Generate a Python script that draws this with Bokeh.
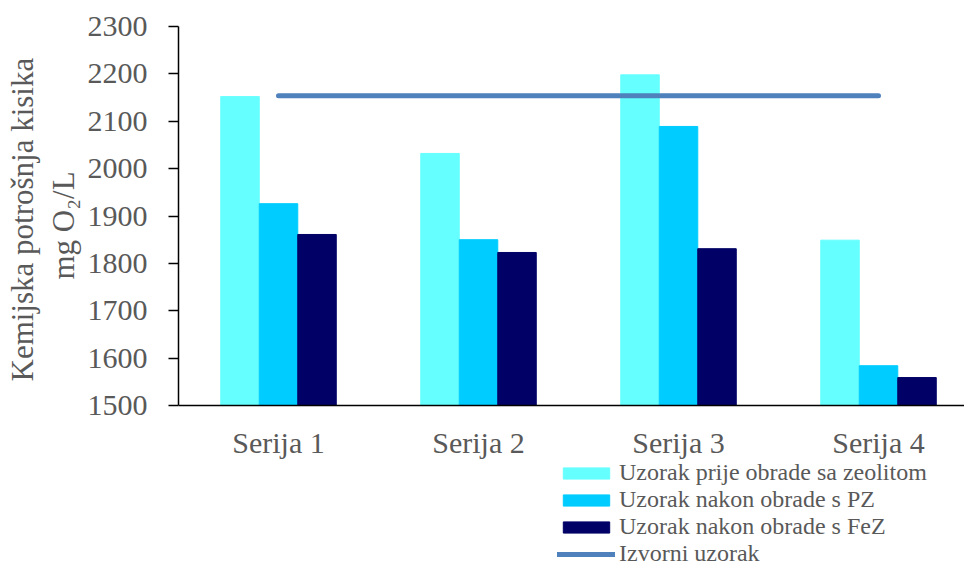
from bokeh.plotting import figure
from bokeh.models import Range1d, FixedTicker, Legend, LegendItem, Span, Title
from bokeh.core.properties import value
from bokeh.embed import file_html
from bokeh.resources import INLINE

categories = ["Serija 1", "Serija 2", "Serija 3", "Serija 4"]
prije = [2152, 2032, 2198, 1849]
nakon_pz = [1926, 1850, 2089, 1584]
nakon_fez = [1861, 1823, 1831, 1559]
izvorni = [2154, 2154, 2154, 2154]
y_ticks = [1500, 1600, 1700, 1800, 1900, 2000, 2100, 2200, 2300]

series_names = ["Uzorak prije obrade sa zeolitom", "Uzorak nakon obrade s PZ",
                "Uzorak nakon obrade s FeZ"]
line_name = "Izvorni uzorak"
y_title_1 = "Kemijska potrošnja kisika"
y_title_2 = "mg O\u2082/L"
colors = ["#66FFFF", "#00CCFF", "#000066"]
line_color = "#4F81BD"
text_color = "#595959"
FONT = "Liberation Serif"

# layout constants (pixels)
W, H = 964, 567
TOP, LEFT = 26, 178
AXIS_Y = 405           # pixel row of the value-axis minimum
Y_MIN, Y_MAX = 1500, 2300
px_per_unit = (AXIS_Y - TOP) / (Y_MAX - Y_MIN)
y_lo = Y_MIN - (H - AXIS_Y) / px_per_unit
x_hi = -0.5 + (W - LEFT) / 200.0

idx = list(range(len(categories)))
bar_w = 0.1925

p = figure(width=W, height=H, output_backend="svg", toolbar_location=None,
           x_range=Range1d(-0.5, x_hi), y_range=Range1d(y_lo, Y_MAX),
           x_axis_location=None,
           min_border_left=LEFT, min_border_top=TOP, min_border_right=0,
           min_border_bottom=0)
p.outline_line_color = None
p.grid.visible = False

renderers = []
for k, (vals, c) in enumerate(zip([prije, nakon_pz, nakon_fez], colors)):
    xs = [i + (k - 1) * bar_w for i in idx]
    r = p.vbar(x=xs, top=vals, bottom=Y_MIN, width=bar_w, fill_color=c, line_color=c)
    renderers.append(r)

lr = p.line(x=idx, y=izvorni, line_color=line_color, line_width=5, line_cap="round")

# category axis: baseline line + labels
p.add_layout(Span(location=Y_MIN, dimension="width", line_color="black", line_width=1.5))
p.text(x=idx, y=[Y_MIN] * len(idx), text=categories, y_offset=37,
       text_align="center", text_baseline="middle",
       text_font=value(FONT), text_font_size="30px", text_color=text_color)

ya = p.yaxis[0]
ya.bounds = (Y_MIN, Y_MAX)
ya.ticker = FixedTicker(ticks=y_ticks)
ya.minor_tick_line_color = None
ya.major_tick_in = 0
ya.major_tick_out = 10
ya.major_tick_line_color = "black"
ya.major_tick_line_width = 1.5
ya.axis_line_color = "black"
ya.axis_line_width = 1.5
ya.major_label_text_font = FONT
ya.major_label_text_font_size = "30px"
ya.major_label_text_color = text_color
ya.major_label_standoff = 21

# two-line value-axis title, centred on the 1500-2300 span
center_from_bottom = H - (AXIS_Y + TOP) / 2
for txt, est_len, stand in [(y_title_2, 127, 8), (y_title_1, 331, 0)]:
    p.add_layout(Title(text=txt, align="left", offset=center_from_bottom - est_len / 2,
                       standoff=stand, text_font=FONT, text_font_size="31px",
                       text_font_style="normal", text_color=text_color), "left")

items = [LegendItem(label=n, renderers=[r]) for n, r in zip(series_names, renderers)]
items.append(LegendItem(label=line_name, renderers=[lr]))
legend = Legend(items=items, location=(557 - LEFT, 0), orientation="vertical",
                glyph_width=58, glyph_height=14, label_standoff=4,
                label_height=22, spacing=0, padding=0, margin=0,
                border_line_color=None, background_fill_alpha=0,
                label_text_font=FONT, label_text_font_size="24px",
                label_text_color=text_color)
p.add_layout(legend, "center")

open("out.html", "w").write(file_html(p, INLINE))
